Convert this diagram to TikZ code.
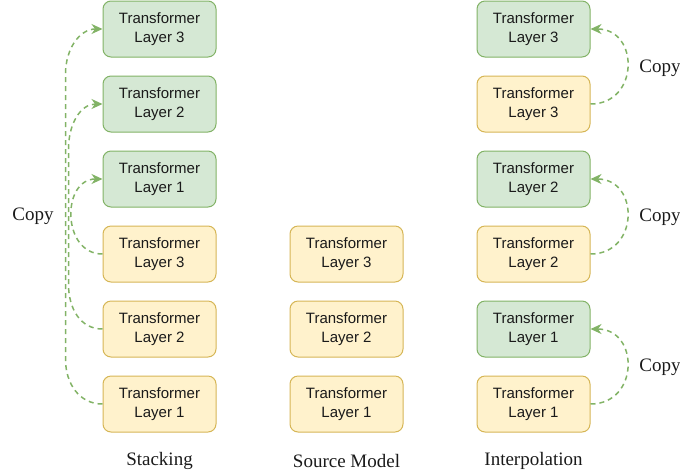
\documentclass[tikz,border=0pt]{standalone}
\usepackage{fontspec}
\setmainfont{Liberation Serif}
\newfontfamily\boxfont{Liberation Sans}
\usetikzlibrary{arrows.meta,calc}
\definecolor{gfill}{HTML}{D5E8D4}
\definecolor{gline}{HTML}{82B366}
\definecolor{yfill}{HTML}{FFF2CC}
\definecolor{yline}{HTML}{D6B656}
\definecolor{txt}{HTML}{1A1A1A}
\begin{document}
\begin{tikzpicture}[x=1pt,y=-1pt,
  layerbox/.style={rectangle, rounded corners=8pt, minimum width=113pt, minimum height=56pt,
    inner sep=0pt, line width=1pt, align=center, text=txt,
    font=\boxfont\fontsize{15}{18.5}\selectfont},
  greenbox/.style={layerbox, draw=gline, fill=gfill},
  yellowbox/.style={layerbox, draw=yline, fill=yfill},
  copyarrow/.style={draw=gline, line width=1.5pt, dash pattern=on 5pt off 4pt,
    -{Stealth[length=11pt,width=10pt,inset=3.5pt,fill=gline]}},
  caption/.style={font=\fontsize{19}{22}\selectfont, text=txt, inner sep=0pt}]
\useasboundingbox (0,0) rectangle (680,475);
% Stacking
\node[greenbox]  (sg3) at (159.5,29)  {Transformer\\Layer 3};
\node[greenbox]  (sg2) at (159.5,104) {Transformer\\Layer 2};
\node[greenbox]  (sg1) at (159.5,179) {Transformer\\Layer 1};
\node[yellowbox] (sy3) at (159.5,254) {Transformer\\Layer 3};
\node[yellowbox] (sy2) at (159.5,329) {Transformer\\Layer 2};
\node[yellowbox] (sy1) at (159.5,404) {Transformer\\Layer 1};
% Source
\node[yellowbox] (m3) at (346.5,254) {Transformer\\Layer 3};
\node[yellowbox] (m2) at (346.5,329) {Transformer\\Layer 2};
\node[yellowbox] (m1) at (346.5,404) {Transformer\\Layer 1};
% Interpolation
\node[greenbox]  (ig3) at (533.5,29)  {Transformer\\Layer 3};
\node[yellowbox] (iy3) at (533.5,104) {Transformer\\Layer 3};
\node[greenbox]  (ig2) at (533.5,179) {Transformer\\Layer 2};
\node[yellowbox] (iy2) at (533.5,254) {Transformer\\Layer 2};
\node[greenbox]  (ig1) at (533.5,329) {Transformer\\Layer 1};
\node[yellowbox] (iy1) at (533.5,404) {Transformer\\Layer 1};
% captions
\node[caption] (capS) at (159.5,461) {Stacking};
\node[caption] (capM) at (346.5,461) {Source Model};
\node[caption] (capI) at (533.5,461) {Interpolation};
\node[caption] (copyL) at (33,216) {Copy};
\node[caption] (copyR3) at (660,68) {Copy};
\node[caption] (copyR2) at (660,217) {Copy};
\node[caption] (copyR1) at (660,367) {Copy};
% stacking arrows
\draw[copyarrow] (sy1.west) .. controls +(-23,0) and +(0,25) .. ($(sy1.west)+(-37,-45)$)
  -- ($(sg3.west)+(-37,45)$) .. controls +(0,-25) and +(-23,0) .. (sg3.west);
\draw[copyarrow] (sy2.west) .. controls +(-22,0) and +(0,25) .. ($(sy2.west)+(-34,-45)$)
  -- ($(sg2.west)+(-34,45)$) .. controls +(0,-25) and +(-22,0) .. (sg2.west);
\draw[copyarrow] (sy3.west) .. controls +(-41,0) and +(-41,0) .. (sg1.west);
% interpolation arrows
\draw[copyarrow] (iy3.east) .. controls +(49,0) and +(49,0) .. (ig3.east);
\draw[copyarrow] (iy2.east) .. controls +(49,0) and +(49,0) .. (ig2.east);
\draw[copyarrow] (iy1.east) .. controls +(49,0) and +(49,0) .. (ig1.east);
\end{tikzpicture}
\end{document}
